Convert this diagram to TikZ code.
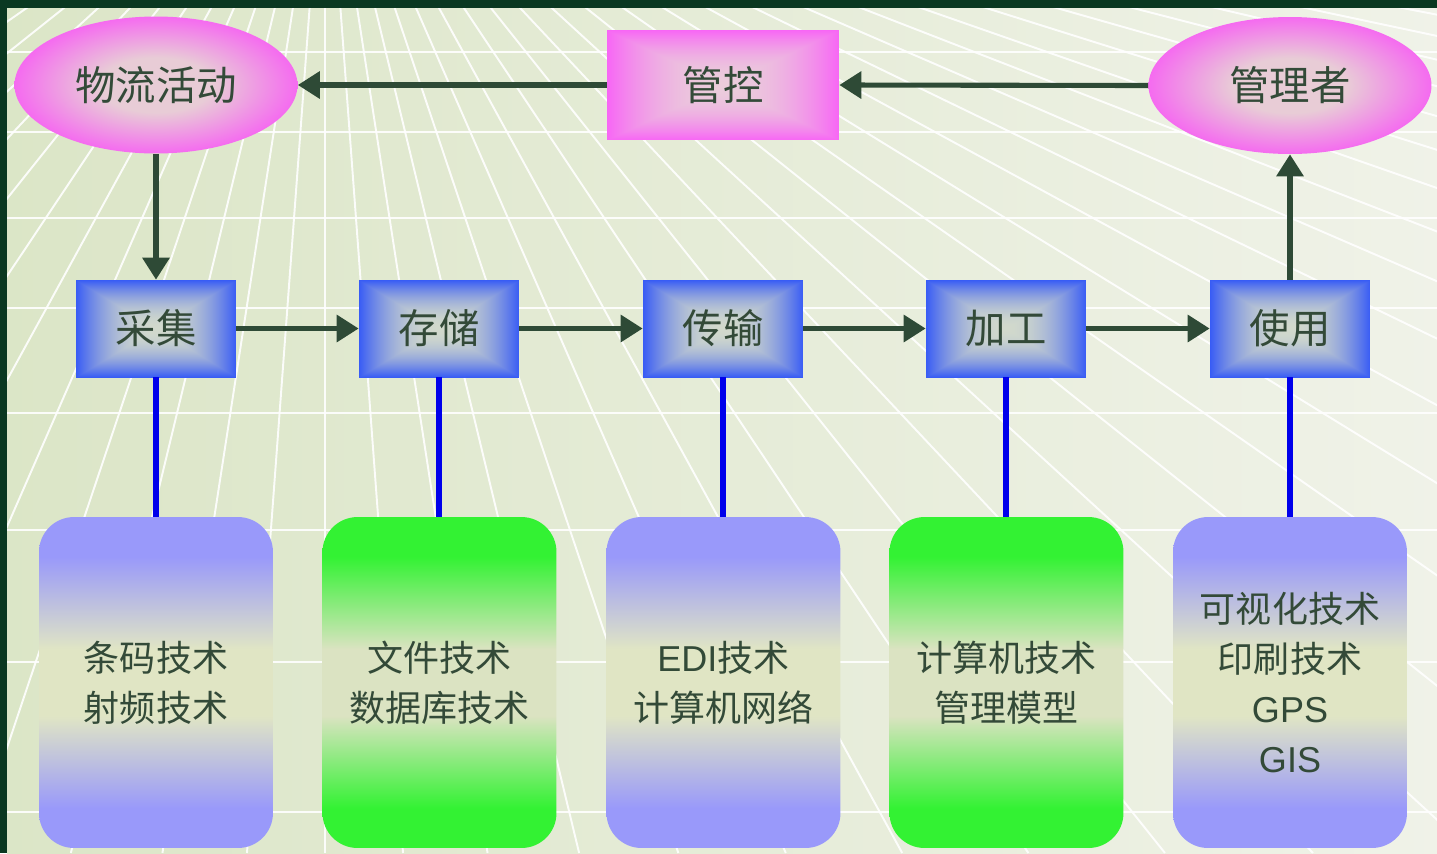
\documentclass[tikz,border=0pt]{standalone}
\usepackage{fontspec}
\setmainfont{Noto Sans CJK SC}
\newfontfamily\lat{Liberation Sans}
\usetikzlibrary{shapes.geometric,arrows.meta}

\definecolor{bgL}{rgb}{0.86,0.90,0.78}
\definecolor{bgR}{rgb}{0.94,0.95,0.91}
\definecolor{framec}{rgb}{0.04,0.22,0.13}
\definecolor{arrc}{rgb}{0.18,0.29,0.21}
\definecolor{txt}{rgb}{0.20,0.29,0.22}
\definecolor{pinkC}{rgb}{0.91,0.80,0.84}
\definecolor{pinkE}{rgb}{0.96,0.42,0.94}
\definecolor{barB}{rgb}{0.60,0.60,0.98}
\definecolor{barBm}{rgb}{0.88,0.90,0.77}
\definecolor{barG}{rgb}{0.20,0.95,0.20}
\definecolor{barGm}{rgb}{0.86,0.89,0.76}
\definecolor{linkb}{rgb}{0.0,0.0,0.92}

\pgfdeclareradialshading{pinkell}{\pgfpoint{0bp}{0bp}}{color(0bp)=(pinkC); color(10bp)=(pinkC); color(25bp)=(pinkE); color(50bp)=(pinkE)}
\pgfdeclareverticalshading{barblue}{100bp}{color(0bp)=(barB); color(31bp)=(barB); color(45bp)=(barBm); color(55bp)=(barBm); color(69bp)=(barB); color(100bp)=(barB)}
\pgfdeclareverticalshading{bargreen}{100bp}{color(0bp)=(barG); color(31bp)=(barG); color(45bp)=(barGm); color(55bp)=(barGm); color(69bp)=(barG); color(100bp)=(barG)}
\pgfdeclarefunctionalshading{bluebox}{\pgfpoint{-50bp}{-50bp}}{\pgfpoint{50bp}{50bp}}{}{abs exch abs 2 copy sub abs add add 2 div 25 div dup mul dup -0.60 mul 0.82 add exch dup -0.49 mul 0.85 add exch 0.16 mul 0.80 add}
\pgfdeclarefunctionalshading{pinkbox}{\pgfpoint{-50bp}{-50bp}}{\pgfpoint{50bp}{50bp}}{}{abs exch abs 2 copy sub abs add add 2 div 25 div dup mul dup 0.05 mul 0.92 add exch dup -0.40 mul 0.80 add exch 0.10 mul 0.86 add}

\tikzset{
  ell/.style={ellipse, minimum width=5.66cm, minimum height=2.74cm, inner sep=0pt,
    shade, shading=pinkell, text=txt, font=\fontsize{23}{28}\selectfont},
  ctrlbox/.style={rectangle, minimum width=4.64cm, minimum height=2.2cm, inner sep=0pt,
    shade, shading=pinkbox, text=txt, font=\fontsize{23}{28}\selectfont},
  stage/.style={rectangle, minimum width=3.2cm, minimum height=1.94cm, inner sep=0pt,
    shade, shading=bluebox, text=txt, font=\fontsize{23}{28}\selectfont},
  techb/.style={rectangle, rounded corners=0.7cm, minimum width=4.68cm, minimum height=6.62cm,
    inner sep=0pt, shade, shading=barblue, align=center, text=txt,
    font=\fontsize{20.5}{28.5}\selectfont},
  techg/.style={techb, shading=bargreen},
  arr/.style={draw=arrc, line width=2.9pt, -{Triangle[length=12.5pt,width=15pt]}},
  link/.style={draw=linkb, line width=3.4pt},
  gridline/.style={white, line width=1.1pt, opacity=0.9}
}

\begin{document}
\begin{tikzpicture}[x=0.02cm, y=-0.02cm]
\useasboundingbox (0,0) rectangle (1437,853);
% background
\fill[framec] (0,0) rectangle (1437,853);
\shade[left color=bgL, right color=bgR] (7,8) rectangle (1437,853);
\begin{scope}
  \clip (7,8) rectangle (1437,853);
  \foreach \yy in {52,132,218,308,413,530,662,812}
    \draw[gridline] (7,\yy) -- (1437,\yy);
  \foreach \k in {-14,...,26}
    \draw[gridline] (325,-200) -- ({325+937*sign(\k)*(exp(0.08*abs(\k))-1)},853);
\end{scope}

% top row
\node[ell] (wl) at (156,85) {物流活动};
\node[ctrlbox] (gk) at (723,85) {管控};
\node[ell] (gl) at (1290,85.5) {管理者};

% stages
\node[stage] (cj) at (156,328.5) {采集};
\node[stage] (cc) at (439,328.5) {存储};
\node[stage] (cs) at (723,328.5) {传输};
\node[stage] (jg) at (1006,328.5) {加工};
\node[stage] (sy) at (1290,328.5) {使用};

% technology boxes
\node[techb] (t1) at (156,682.5) {条码技术\\射频技术};
\node[techg] (t2) at (439.5,682.5) {文件技术\\数据库技术};
\node[techb] (t3) at (723.5,682.5) {{\lat EDI}技术\\计算机网络};
\node[techg] (t4) at (1006.5,682.5) {计算机技术\\管理模型};
\node[techb] (t5) at (1290,682.5) {可视化技术\\印刷技术\\{\lat GPS}\\{\lat GIS}};

% blue links
\draw[link] (cj.south) -- (t1.north);
\draw[link] (cc.south) -- (cc.south |- t2.north);
\draw[link] (cs.south) -- (cs.south |- t3.north);
\draw[link] (jg.south) -- (jg.south |- t4.north);
\draw[link] (sy.south) -- (t5.north);

% arrows
\draw[arr] (wl.south) -- (cj.north);
\draw[arr] (cj.east) -- (cc.west);
\draw[arr] (cc.east) -- (cs.west);
\draw[arr] (cs.east) -- (jg.west);
\draw[arr] (jg.east) -- (sy.west);
\draw[arr] (sy.north) -- (gl.south);
\draw[arr] (gl.west) -- (gk.east);
\draw[arr] (gk.west) -- (wl.east);
\end{tikzpicture}
\end{document}
